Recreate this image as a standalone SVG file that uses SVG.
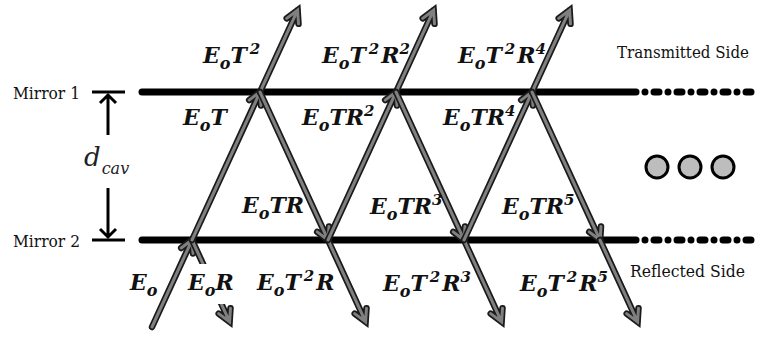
<svg xmlns="http://www.w3.org/2000/svg" xmlns:xlink="http://www.w3.org/1999/xlink" width="760" height="339" viewBox="0 0 760 339">
<style>
.mir{stroke:#000;stroke-width:7;stroke-linecap:round;fill:none}
.dash{stroke:#000;stroke-width:7;stroke-linecap:round;fill:none;stroke-dasharray:0 9 5 9}
.o{stroke:#1a1a1a;stroke-width:6.5;fill:none;stroke-linejoin:miter;stroke-linecap:round}
.i{stroke:#808080;stroke-width:3;fill:none;stroke-linejoin:miter;stroke-linecap:round}
.tk{stroke:#000;stroke-width:3;fill:none}
.lbl{font-family:'DejaVu Serif',serif;font-style:italic;font-weight:bold;font-size:22px;fill:#111}
.sub{font-size:16px}
.sup{font-size:15px}
.side{font-family:'DejaVu Serif',serif;font-size:16.5px;fill:#111}
.dot{fill:#bdbdbd;stroke:#000;stroke-width:3}
</style>
<defs>
<path id="aOut" d="M0,0 H90 M78,-6.5 L90,0 L78,6.5"/>
<path id="aIn" d="M0,0 H163 M151,-6.5 L163,0 L151,6.5"/>
</defs>

<g id="mirror1">
<line class="mir" x1="142" y1="92" x2="636" y2="92"/>
<line class="dash" x1="645" y1="92" x2="760" y2="92"/>
<text class="side" x="13" y="99" textLength="67" lengthAdjust="spacingAndGlyphs">Mirror 1</text>
</g>
<g id="mirror2">
<line class="mir" x1="142" y1="240" x2="636" y2="240"/>
<line class="dash" x1="645" y1="240" x2="760" y2="240"/>
<text class="side" x="13" y="247" textLength="67" lengthAdjust="spacingAndGlyphs">Mirror 2</text>
</g>

<g id="dcav">
<line class="tk" x1="92" y1="92" x2="125" y2="92"/>
<line class="tk" x1="92" y1="240" x2="125" y2="240"/>
<path class="tk" d="M108,135 V95 M100,103 L108,95 L116,103"/>
<path class="tk" d="M108,188 V237 M100,229 L108,237 L116,229"/>
<text x="84" y="166" style="font-family:'DejaVu Serif',serif;font-style:italic;font-size:26px;fill:#222">d<tspan dx="1" dy="8" style="font-size:16px">cav</tspan></text>
</g>

<g id="connectors">
<g transform="translate(152,327) rotate(-65.3)"><path class="o" d="M0,0 H96 M84,-6.5 L96,0 L84,6.5"/><path class="i" d="M0,0 H96 M84,-6.5 L96,0 L84,6.5"/></g>
<g transform="translate(192,240) rotate(65.3)"><use xlink:href="#aOut" class="o"/><use xlink:href="#aOut" class="i"/></g>
<g transform="translate(192,240) rotate(-65.3)"><use xlink:href="#aIn" class="o"/><use xlink:href="#aIn" class="i"/></g>
<g transform="translate(260,92) rotate(-65.3)"><use xlink:href="#aOut" class="o"/><use xlink:href="#aOut" class="i"/></g>
<g transform="translate(260,92) rotate(65.3)"><use xlink:href="#aIn" class="o"/><use xlink:href="#aIn" class="i"/></g>
<g transform="translate(328,240) rotate(65.3)"><use xlink:href="#aOut" class="o"/><use xlink:href="#aOut" class="i"/></g>
<g transform="translate(328,240) rotate(-65.3)"><use xlink:href="#aIn" class="o"/><use xlink:href="#aIn" class="i"/></g>
<g transform="translate(396,92) rotate(-65.3)"><use xlink:href="#aOut" class="o"/><use xlink:href="#aOut" class="i"/></g>
<g transform="translate(396,92) rotate(65.3)"><use xlink:href="#aIn" class="o"/><use xlink:href="#aIn" class="i"/></g>
<g transform="translate(464,240) rotate(65.3)"><use xlink:href="#aOut" class="o"/><use xlink:href="#aOut" class="i"/></g>
<g transform="translate(464,240) rotate(-65.3)"><use xlink:href="#aIn" class="o"/><use xlink:href="#aIn" class="i"/></g>
<g transform="translate(532,92) rotate(-65.3)"><use xlink:href="#aOut" class="o"/><use xlink:href="#aOut" class="i"/></g>
<g transform="translate(532,92) rotate(65.3)"><use xlink:href="#aIn" class="o"/><use xlink:href="#aIn" class="i"/></g>
<g transform="translate(600,240) rotate(65.3)"><use xlink:href="#aOut" class="o"/><use xlink:href="#aOut" class="i"/></g>
</g>

<g id="labels">
<text class="lbl" x="203" y="63">E<tspan class="sub" dy="6">o</tspan><tspan dy="-6">T</tspan><tspan class="sup" dx="3" dy="-9">2</tspan></text>
<text class="lbl" x="322" y="63">E<tspan class="sub" dy="6">o</tspan><tspan dy="-6">T</tspan><tspan class="sup" dx="3" dy="-9">2</tspan><tspan dx="2" dy="9">R</tspan><tspan class="sup" dy="-9">2</tspan></text>
<text class="lbl" x="458" y="63">E<tspan class="sub" dy="6">o</tspan><tspan dy="-6">T</tspan><tspan class="sup" dx="3" dy="-9">2</tspan><tspan dx="2" dy="9">R</tspan><tspan class="sup" dy="-9">4</tspan></text>

<text class="lbl" x="183" y="125">E<tspan class="sub" dy="6">o</tspan><tspan dy="-6">T</tspan></text>
<text class="lbl" x="302" y="125">E<tspan class="sub" dy="6">o</tspan><tspan dy="-6">TR</tspan><tspan class="sup" dy="-9">2</tspan></text>
<text class="lbl" x="443" y="125">E<tspan class="sub" dy="6">o</tspan><tspan dy="-6">TR</tspan><tspan class="sup" dy="-9">4</tspan></text>

<text class="lbl" x="242" y="213">E<tspan class="sub" dy="6">o</tspan><tspan dy="-6">TR</tspan></text>
<text class="lbl" x="370" y="214">E<tspan class="sub" dy="6">o</tspan><tspan dy="-6">TR</tspan><tspan class="sup" dy="-9">3</tspan></text>
<text class="lbl" x="502" y="214">E<tspan class="sub" dy="6">o</tspan><tspan dy="-6">TR</tspan><tspan class="sup" dy="-9">5</tspan></text>

<text class="lbl" x="130" y="290">E<tspan class="sub" dy="6">o</tspan></text>
<rect x="186" y="264" width="52" height="40" fill="#fff"/>
<text class="lbl" x="188" y="290">E<tspan class="sub" dy="6">o</tspan><tspan dy="-6">R</tspan></text>
<text class="lbl" x="257" y="290">E<tspan class="sub" dy="6">o</tspan><tspan dy="-6">T</tspan><tspan class="sup" dx="3" dy="-9">2</tspan><tspan dx="2" dy="9">R</tspan></text>
<text class="lbl" x="383" y="291">E<tspan class="sub" dy="6">o</tspan><tspan dy="-6">T</tspan><tspan class="sup" dx="3" dy="-9">2</tspan><tspan dx="2" dy="9">R</tspan><tspan class="sup" dy="-9">3</tspan></text>
<text class="lbl" x="520" y="291">E<tspan class="sub" dy="6">o</tspan><tspan dy="-6">T</tspan><tspan class="sup" dx="3" dy="-9">2</tspan><tspan dx="2" dy="9">R</tspan><tspan class="sup" dy="-9">5</tspan></text>

<text class="side" x="617" y="58" textLength="132" lengthAdjust="spacingAndGlyphs">Transmitted Side</text>
<text class="side" x="630" y="277" textLength="115" lengthAdjust="spacingAndGlyphs">Reflected Side</text>
</g>

<g id="ellipsis">
<circle class="dot" cx="657" cy="167" r="11"/>
<circle class="dot" cx="690" cy="167" r="11"/>
<circle class="dot" cx="723" cy="167" r="11"/>
</g>
</svg>
